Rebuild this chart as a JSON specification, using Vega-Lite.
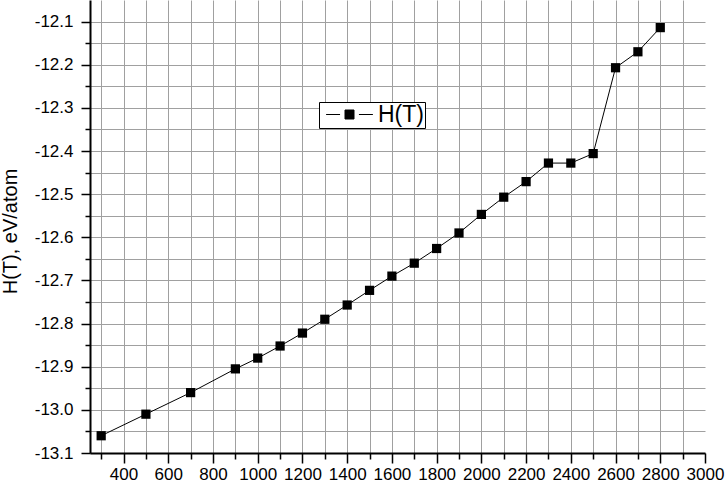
{
  "$schema": "https://vega.github.io/schema/vega-lite/v6.json",
  "width": 615,
  "height": 453,
  "autosize": {"type": "none"},
  "padding": {"left": 90, "top": 0, "right": 20, "bottom": 31},
  "background": "white",
  "config": {"view": {"stroke": null}, "font": "Liberation Sans"},
  "data": {"values": [
    {"T": 300, "H": -13.06, "series": "H(T)"},
    {"T": 500, "H": -13.01, "series": "H(T)"},
    {"T": 700, "H": -12.96, "series": "H(T)"},
    {"T": 900, "H": -12.905, "series": "H(T)"},
    {"T": 1000, "H": -12.88, "series": "H(T)"},
    {"T": 1100, "H": -12.852, "series": "H(T)"},
    {"T": 1200, "H": -12.822, "series": "H(T)"},
    {"T": 1300, "H": -12.79, "series": "H(T)"},
    {"T": 1400, "H": -12.757, "series": "H(T)"},
    {"T": 1500, "H": -12.723, "series": "H(T)"},
    {"T": 1600, "H": -12.69, "series": "H(T)"},
    {"T": 1700, "H": -12.66, "series": "H(T)"},
    {"T": 1800, "H": -12.626, "series": "H(T)"},
    {"T": 1900, "H": -12.59, "series": "H(T)"},
    {"T": 2000, "H": -12.547, "series": "H(T)"},
    {"T": 2100, "H": -12.507, "series": "H(T)"},
    {"T": 2200, "H": -12.471, "series": "H(T)"},
    {"T": 2300, "H": -12.428, "series": "H(T)"},
    {"T": 2400, "H": -12.428, "series": "H(T)"},
    {"T": 2500, "H": -12.406, "series": "H(T)"},
    {"T": 2600, "H": -12.207, "series": "H(T)"},
    {"T": 2700, "H": -12.17, "series": "H(T)"},
    {"T": 2800, "H": -12.114, "series": "H(T)"}
  ]},
  "layer": [
    {
      "mark": {"type": "line", "strokeWidth": 1},
      "encoding": {
        "x": {
          "field": "T", "type": "quantitative",
          "scale": {"domain": [250, 3000], "nice": false, "zero": false},
          "axis": {
            "title": null,
            "tickCount": 200,
            "values": [300,400,500,600,700,800,900,1000,1100,1200,1300,1400,1500,1600,1700,1800,1900,2000,2100,2200,2300,2400,2500,2600,2700,2800,2900,3000],
            "labelExpr": "datum.value % 200 == 0 ? datum.label : ''",
            "format": "d",
            "labelFont": "Liberation Sans", "labelFontSize": 17, "labelColor": "black",
            "labelPadding": 3, "labelFlush": false, "labelOverlap": false,
            "domainColor": "black", "domainWidth": 2,
            "tickColor": "black", "tickWidth": 1.5,
            "tickSize": {"condition": {"test": "datum.value % 200 == 0", "value": 10}, "value": 6},
            "grid": true, "gridColor": "#a0a0a0", "gridWidth": 1,
            "gridOpacity": {"condition": {"test": "datum.value == 3000", "value": 0}, "value": 1}
          }
        },
        "y": {
          "field": "H", "type": "quantitative",
          "scale": {"domain": [-13.1, -12.05], "nice": false, "zero": false},
          "axis": {
            "title": "H(T), eV/atom",
            "titleFont": "Liberation Sans", "titleFontSize": 20, "titleFontWeight": "normal", "titleColor": "black",
            "titleX": -74, "titleY": 231, "titleBaseline": "alphabetic", "titleAngle": 270, "titleAlign": "center",
            "tickCount": 200,
            "values": [-13.1,-13.05,-13.0,-12.95,-12.9,-12.85,-12.8,-12.75,-12.7,-12.65,-12.6,-12.55,-12.5,-12.45,-12.4,-12.35,-12.3,-12.25,-12.2,-12.15,-12.1],
            "labelExpr": "abs(datum.value*10 - round(datum.value*10)) < 0.001 ? replace(format(datum.value, '.1f'), '\u2212', '-') : ''",
            "labelFont": "Liberation Sans", "labelFontSize": 17, "labelColor": "black",
            "labelPadding": 8, "labelFlush": false, "labelOverlap": false,
            "domainColor": "black", "domainWidth": 2,
            "tickColor": "black", "tickWidth": 1.5,
            "tickSize": {"condition": {"test": "abs(datum.value*10 - round(datum.value*10)) < 0.001", "value": 9}, "value": 5},
            "grid": true, "gridColor": "#a0a0a0", "gridWidth": 1
          }
        },
        "color": {
          "field": "series", "type": "nominal",
          "scale": {"range": ["black"]},
          "legend": {
            "title": null, "orient": "none", "legendX": 229, "legendY": 102,
            "symbolType": "M-0.6,0H0.95M3.05,0H4.6M1.5,-0.5H2.5V0.5H1.5Z",
            "symbolSize": 324, "symbolStrokeWidth": 1,
            "symbolFillColor": "black", "symbolStrokeColor": "black",
            "symbolOffset": 0,
            "labelFont": "Liberation Sans", "labelFontSize": 23, "labelColor": "black",
            "labelOffset": 35,
            "padding": 1, "strokeColor": "black", "fillColor": "white"
          }
        }
      }
    },
    {
      "mark": {"type": "point", "shape": "square", "filled": true, "size": 85, "color": "black", "opacity": 1},
      "encoding": {
        "x": {"field": "T", "type": "quantitative"},
        "y": {"field": "H", "type": "quantitative"}
      }
    }
  ]
}
